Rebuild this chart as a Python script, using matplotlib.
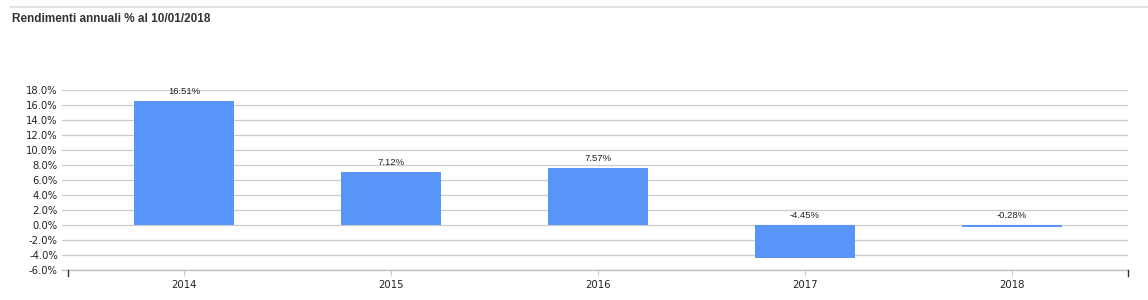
import matplotlib
matplotlib.use("Agg")
import matplotlib.pyplot as plt
from matplotlib.lines import Line2D

categories = ["2014", "2015", "2016", "2017", "2018"]
values = [16.51, 7.12, 7.57, -4.45, -0.28]
yticks = [-6, -4, -2, 0, 2, 4, 6, 8, 10, 12, 14, 16, 18]
title = "Rendimenti annuali % al 10/01/2018"

plt.rcParams['font.family'] = ['Liberation Sans', 'DejaVu Sans']

fig = plt.figure(figsize=(11.48, 3.0), dpi=100)
ax = fig.add_axes([62/1148, 30/300, (1128-62)/1148, 180/300])

x = list(range(len(categories)))
ax.bar(x, values, width=0.483, color="#5994f8", zorder=3)
for xi, v in zip(x, values):
    top = max(v, 0)
    ax.annotate(f"{v:.2f}%", (xi, top), xytext=(0, 3.5), textcoords="offset points",
                ha="center", va="bottom", fontsize=6.8, color="#222222", zorder=4)

ax.set_xlim(-0.589, 4.56)
ax.set_ylim(-6, 18)
ax.set_yticks(yticks)
ax.set_yticklabels([f"{t:.1f}%" for t in yticks], fontsize=7.2, color="#222222",
                   family="DejaVu Sans")
ax.set_xticks(x)
ax.set_xticklabels(categories, fontsize=7.3, color="#222222", family="DejaVu Sans")
ax.tick_params(axis="y", length=0, pad=3)
ax.tick_params(axis="x", length=4, color="#cccccc", pad=3)
ax.yaxis.grid(True, color="#cccccc", linewidth=0.9, zorder=0)
for s in ["top", "right", "left"]:
    ax.spines[s].set_visible(False)
ax.spines["bottom"].set_color("#bbbbbb")
ax.spines["bottom"].set_linewidth(0.9)

# end tick marks
for xe in (-0.56, 4.56):
    ax.plot([xe, xe], [-6, -6.8], color="#333333", linewidth=1, clip_on=False, zorder=5)

# top separator line
fig.add_artist(Line2D([10/1148, 1.0], [1 - 7/300, 1 - 7/300], color="#dddddd", linewidth=1.2))
fig.text(12/1148, 1 - 19/300, title, fontsize=8.5, fontweight="bold", color="#333333",
         ha="left", va="center")

fig.savefig("out.png", dpi=100)
